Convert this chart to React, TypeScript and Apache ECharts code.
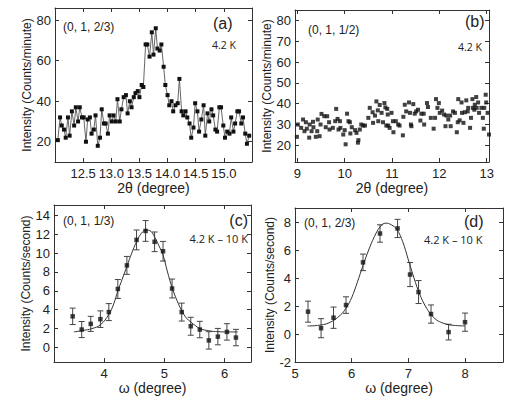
import React, { useEffect, useRef } from "react";
import * as echarts from "echarts";

// ---------- Panel (a): (0, 1, 2/3) scan, 4.2 K ----------
const A_X = [
  12.05, 12.09, 12.12, 12.16, 12.19, 12.23, 12.26, 12.30, 12.34, 12.37,
  12.41, 12.44, 12.48, 12.51, 12.55, 12.58, 12.62, 12.65, 12.69, 12.72,
  12.76, 12.80, 12.83, 12.87, 12.90, 12.94, 12.97, 13.01, 13.04, 13.08,
  13.11, 13.15, 13.18, 13.22, 13.26, 13.29, 13.33, 13.36, 13.40, 13.43,
  13.47, 13.50, 13.54, 13.57, 13.61, 13.64, 13.68, 13.72, 13.75, 13.79,
  13.82, 13.86, 13.89, 13.93, 13.96, 14.00, 14.03, 14.07, 14.10, 14.14,
  14.18, 14.21, 14.25, 14.28, 14.32, 14.35, 14.39, 14.42, 14.46, 14.49,
  14.53, 14.56, 14.60, 14.64, 14.67, 14.71, 14.74, 14.78, 14.81, 14.85,
  14.88, 14.92, 14.95, 14.99, 15.02, 15.06, 15.10, 15.13, 15.17, 15.20,
  15.24, 15.27, 15.31, 15.34, 15.38, 15.41, 15.45,
];
const A_Y = [
  20.8, 32, 28, 26, 22, 32, 23, 35, 28, 37,
  30, 37, 32, 32, 20, 31, 32, 24, 26, 33,
  18, 22, 36, 29, 29, 24, 33, 30, 33, 30,
  41, 30, 36, 42, 43, 34, 40, 37, 42, 44,
  45, 42, 48, 47, 68, 68, 62, 74, 63, 76,
  66, 65, 68, 57, 48, 43, 38, 40, 35, 38,
  39, 51, 35, 33, 35, 32, 29, 22, 27, 39,
  35, 25, 31, 38, 23, 34, 30, 36, 33, 26,
  25, 37, 37, 28, 22, 25, 24, 32, 25, 29,
  35, 35, 29, 32, 24, 19, 23,
];
const A_XTICKS = [12.5, 13.0, 13.5, 14.0, 14.5, 15.0];
const A_YTICKS = [20, 40, 60, 80];

// ---------- Panel (b): (0, 1, 1/2) scan, 4.2 K ----------
const B_X = [
  8.99, 9.01, 9.08, 9.12, 9.15, 9.18, 9.20, 9.25, 9.26, 9.30,
  9.33, 9.34, 9.39, 9.42, 9.43, 9.47, 9.49, 9.51, 9.57, 9.60,
  9.63, 9.67, 9.68, 9.75, 9.80, 9.82, 9.85, 9.87, 9.90, 9.91,
  9.97, 10.00, 10.02, 10.05, 10.08, 10.11, 10.12, 10.15, 10.22, 10.25,
  10.28, 10.29, 10.32, 10.35, 10.39, 10.43, 10.50, 10.53, 10.59, 10.60,
  10.64, 10.67, 10.70, 10.71, 10.74, 10.78, 10.81, 10.84, 10.86, 10.88,
  10.90, 10.91, 10.92, 10.95, 10.99, 11.02, 11.03, 11.08, 11.13, 11.16,
  11.23, 11.24, 11.27, 11.30, 11.36, 11.38, 11.40, 11.41, 11.45, 11.48,
  11.51, 11.55, 11.60, 11.62, 11.67, 11.68, 11.74, 11.76, 11.82, 11.88,
  11.91, 11.93, 11.96, 11.99, 12.01, 12.06, 12.10, 12.13, 12.15, 12.19,
  12.23, 12.24, 12.29, 12.33, 12.37, 12.39, 12.40, 12.43, 12.47, 12.48,
  12.51, 12.54, 12.57, 12.60, 12.61, 12.65, 12.67, 12.70, 12.71, 12.74,
  12.75, 12.78, 12.79, 12.82, 12.84, 12.89, 12.92, 12.94, 12.95, 12.98,
  12.99, 13.02, 13.05,
];
const B_Y = [
  24.1, 30.0, 28.4, 32.4, 26.8, 31.1, 28.0, 23.7, 30.0, 26.8,
  31.3, 28.7, 24.1, 26.8, 32.4, 24.4, 30.0, 35.1, 34.0, 28.7,
  34.0, 31.1, 27.6, 28.4, 31.6, 37.5, 32.7, 27.6, 31.6, 28.4,
  25.2, 27.3, 20.5, 35.2, 31.6, 31.1, 25.7, 28.7, 27.3, 26.0,
  21.3, 22.5, 27.6, 30.0, 29.5, 29.5, 33.2, 38.0, 35.9, 30.8,
  34.3, 41.1, 36.8, 31.6, 39.4, 35.6, 31.1, 40.3, 38.2, 29.5,
  37.5, 34.8, 29.5, 28.4, 35.6, 31.6, 26.3, 31.6, 30.0, 29.5,
  24.8, 33.7, 39.5, 36.3, 40.6, 35.6, 30.0, 29.2, 39.8, 35.2,
  36.3, 37.1, 31.9, 35.2, 35.2, 30.0, 40.3, 38.4, 33.2, 28.0,
  33.2, 42.2, 38.0, 40.3, 35.6, 36.7, 34.8, 29.2, 34.3, 32.4,
  34.3, 29.2, 36.3, 35.6, 26.3, 31.1, 42.2, 32.0, 40.6, 35.6,
  30.8, 35.9, 41.6, 36.3, 38.0, 28.4, 33.2, 42.2, 38.0, 37.1,
  39.5, 43.2, 38.0, 40.6, 35.6, 38.0, 33.2, 28.0, 38.0, 44.3,
  40.6, 35.6, 25.2,
];
const B_XTICKS = [9, 10, 11, 12, 13];
const B_YTICKS = [20, 30, 40, 50, 60, 70, 80];

// ---------- Panel (c): (0, 1, 1/3) rocking curve, 4.2 K - 10 K ----------
const C_X = [3.48, 3.63, 3.78, 3.94, 4.08, 4.23, 4.38, 4.54, 4.69, 4.84, 4.98, 5.13, 5.29, 5.44, 5.59, 5.74, 5.89, 6.04, 6.19];
const C_Y = [3.3, 1.9, 2.5, 3.0, 3.75, 6.2, 8.7, 11.4, 12.35, 11.2, 10.2, 6.25, 3.75, 2.25, 1.9, 0.75, 1.15, 1.65, 1.05];
const C_ERR = [0.87, 0.85, 0.8, 0.88, 0.9, 1.0, 0.95, 1.05, 1.1, 1.04, 1.04, 1.0, 0.95, 0.95, 0.87, 0.92, 0.87, 0.87, 0.87];
const C_FIT_X = [3.5, 3.65, 3.8, 3.94, 4.08, 4.16, 4.23, 4.3, 4.38, 4.46, 4.54, 4.62, 4.7, 4.78, 4.84, 4.91, 4.98, 5.05, 5.13, 5.21, 5.29, 5.37, 5.44, 5.52, 5.59, 5.74, 5.89, 6.04, 6.22];
const C_FIT_Y = [1.65, 1.8, 2.0, 2.4, 3.5, 4.6, 6.0, 7.2, 8.6, 10.0, 11.2, 12.1, 12.45, 12.3, 11.7, 10.8, 9.8, 8.1, 6.35, 5.0, 3.9, 3.1, 2.7, 2.3, 2.0, 1.77, 1.67, 1.65, 1.65];
const C_XTICKS = [4, 5, 6];
const C_YTICKS = [0, 2, 4, 6, 8, 10, 12, 14];

// ---------- Panel (d): (0, 1, 2/3) rocking curve, 4.2 K - 10 K ----------
const D_X = [5.23, 5.46, 5.68, 5.9, 6.2, 6.5, 6.81, 7.03, 7.18, 7.4, 7.71, 8.0];
const D_Y = [1.6, 0.42, 1.17, 2.07, 5.12, 7.18, 7.54, 4.25, 3.0, 1.43, 0.14, 0.85];
const D_ERR = [0.75, 0.68, 0.76, 0.59, 0.59, 0.62, 0.65, 0.86, 0.82, 0.65, 0.56, 0.65];
const D_FIT_X = [5.22, 5.4, 5.6, 5.8, 5.9, 6.0, 6.1, 6.2, 6.3, 6.4, 6.5, 6.6, 6.7, 6.8, 6.9, 7.0, 7.1, 7.2, 7.3, 7.4, 7.5, 7.6, 7.7, 7.8, 8.0];
const D_FIT_Y = [0.58, 0.62, 0.8, 1.35, 1.85, 2.6, 3.7, 4.9, 6.0, 6.95, 7.65, 7.92, 7.8, 7.45, 6.6, 5.3, 4.0, 2.85, 2.0, 1.4, 1.0, 0.8, 0.68, 0.62, 0.58];
const D_XTICKS = [5, 6, 7, 8];
const D_YTICKS = [-2, 0, 2, 4, 6, 8];

const X_NAME_TOP = "2\u03b8 (degree)";
const X_NAME_BOTTOM = "\u03c9 (degree)";
const Y_NAME_TOP = "Intensity (Counts/minute)";
const Y_NAME_BOTTOM = "Intensity (Counts/second)";

const FONT = '"Liberation Sans", Arial, sans-serif';
const AX = "#333";
const TXT = "#222";

function xAxesFor(gridIndex: number, min: number, max: number, ticks: number[], name: string, fmt: ((v: number) => string) | null, nameGap: number) {
  const line = { show: true, onZero: false, lineStyle: { color: AX, width: 1 } };
  return [
    {
      type: "value", gridIndex, min, max, position: "bottom",
      name, nameLocation: "middle", nameGap,
      nameTextStyle: { fontFamily: FONT, fontSize: 14, color: TXT },
      axisLine: line,
      axisTick: { show: true, inside: true, length: 4, customValues: ticks, lineStyle: { color: AX } },
      axisLabel: { show: true, customValues: ticks, margin: 5, fontFamily: FONT, fontSize: 13, color: TXT, formatter: fmt ? (v: number) => fmt(v) : undefined },
      splitLine: { show: false },
    },
    {
      type: "value", gridIndex, min, max, position: "top",
      axisLine: line,
      axisTick: { show: true, inside: true, length: 4, customValues: ticks, lineStyle: { color: AX } },
      axisLabel: { show: false },
      splitLine: { show: false },
    },
  ];
}

function yAxesFor(gridIndex: number, min: number, max: number, ticks: number[], name: string, nameGap: number) {
  const line = { show: true, onZero: false, lineStyle: { color: AX, width: 1 } };
  return [
    {
      type: "value", gridIndex, min, max, position: "left",
      name, nameLocation: "middle", nameGap,
      nameTextStyle: { fontFamily: FONT, fontSize: 12, color: TXT },
      axisLine: line,
      axisTick: { show: true, inside: true, length: 4, customValues: ticks, lineStyle: { color: AX } },
      axisLabel: { show: true, customValues: ticks, margin: 4, fontFamily: FONT, fontSize: 13, color: TXT },
      splitLine: { show: false },
    },
    {
      type: "value", gridIndex, min, max, position: "right",
      axisLine: line,
      axisTick: { show: true, inside: true, length: 4, customValues: ticks, lineStyle: { color: AX } },
      axisLabel: { show: false },
      splitLine: { show: false },
    },
  ];
}

function errorBars(xAxisIndex: number, yAxisIndex: number, xs: number[], ys: number[], errs: number[]) {
  return {
    type: "custom",
    xAxisIndex, yAxisIndex,
    z: 1,
    data: xs.map((x, i) => [x, ys[i] - errs[i], ys[i] + errs[i]]),
    encode: { x: 0, y: [1, 2] },
    renderItem: (params: any, api: any) => {
      const x = api.value(0);
      const lo = api.coord([x, api.value(1)]);
      const hi = api.coord([x, api.value(2)]);
      const w = 3;
      const st = { stroke: "#444", lineWidth: 1 };
      return {
        type: "group",
        children: [
          { type: "line", shape: { x1: lo[0], y1: lo[1], x2: hi[0], y2: hi[1] }, style: st },
          { type: "line", shape: { x1: lo[0] - w, y1: lo[1], x2: lo[0] + w, y2: lo[1] }, style: st },
          { type: "line", shape: { x1: hi[0] - w, y1: hi[1], x2: hi[0] + w, y2: hi[1] }, style: st },
        ],
      };
    },
  };
}

function label(x: number, y: number, text: string, size: number, family: string, align = "left") {
  return {
    type: "text", x, y, z: 10,
    style: { text, fill: TXT, font: `${size}px ${family}`, textAlign: align, textVerticalAlign: "middle" },
  };
}

export default function App() {
  const ref = useRef<HTMLDivElement>(null);
  useEffect(() => {
    if (!ref.current) return;
    const chart = echarts.init(ref.current, null, { renderer: "svg" });
    const pair = (xs: number[], ys: number[]) => xs.map((x, i) => [x, ys[i]]);
    const LF = '"Open Sans", sans-serif';
    chart.setOption({
      animation: false,
      backgroundColor: "#fff",
      grid: [
        { left: 55, top: 8, width: 197, height: 154 },
        { left: 295, top: 10, width: 194, height: 152 },
        { left: 54, top: 205, width: 197, height: 160 },
        { left: 295, top: 208, width: 208, height: 156 },
      ],
      xAxis: [
        ...xAxesFor(0, 12, 15.5, A_XTICKS, X_NAME_TOP, (v) => v.toFixed(1), 16),
        ...xAxesFor(1, 8.95, 13.05, B_XTICKS, X_NAME_TOP, null, 16),
        ...xAxesFor(2, 3.17, 6.44, C_XTICKS, X_NAME_BOTTOM, null, 17),
        ...xAxesFor(3, 5, 8.67, D_XTICKS, X_NAME_BOTTOM, null, 18),
      ],
      yAxis: [
        ...yAxesFor(0, 10, 86, A_YTICKS, Y_NAME_TOP, 22),
        ...yAxesFor(1, 12, 85, B_YTICKS, Y_NAME_TOP, 16),
        ...yAxesFor(2, -1.55, 15.1, C_YTICKS, Y_NAME_BOTTOM, 22),
        ...yAxesFor(3, -2, 9, D_YTICKS, Y_NAME_BOTTOM, 19),
      ],
      series: [
        {
          type: "line", xAxisIndex: 0, yAxisIndex: 0,
          data: pair(A_X, A_Y),
          symbol: "rect", symbolSize: 4,
          itemStyle: { color: "#111" },
          lineStyle: { color: "#555", width: 0.9 },
        },
        {
          type: "scatter", xAxisIndex: 2, yAxisIndex: 2,
          data: pair(B_X, B_Y),
          symbol: "rect", symbolSize: 4,
          itemStyle: { color: "#111" },
        },
        errorBars(4, 4, C_X, C_Y, C_ERR),
        {
          type: "line", xAxisIndex: 4, yAxisIndex: 4,
          data: pair(C_FIT_X, C_FIT_Y),
          showSymbol: false, symbol: "none", smooth: 0.4,
          lineStyle: { color: "#333", width: 1 },
        },
        {
          type: "scatter", xAxisIndex: 4, yAxisIndex: 4,
          data: pair(C_X, C_Y),
          symbol: "rect", symbolSize: 4.5, z: 5,
          itemStyle: { color: "#111" },
        },
        errorBars(6, 6, D_X, D_Y, D_ERR),
        {
          type: "line", xAxisIndex: 6, yAxisIndex: 6,
          data: pair(D_FIT_X, D_FIT_Y),
          showSymbol: false, symbol: "none", smooth: 0.4,
          lineStyle: { color: "#333", width: 1 },
        },
        {
          type: "scatter", xAxisIndex: 6, yAxisIndex: 6,
          data: pair(D_X, D_Y),
          symbol: "rect", symbolSize: 4.5, z: 5,
          itemStyle: { color: "#111" },
        },
      ],
      graphic: [
        label(63, 27, "(0, 1, 2/3)", 12, FONT),
        label(213, 23, "(a)", 16, FONT),
        label(212, 45, "4.2 K", 10.5, LF),
        label(308, 30, "(0, 1, 1/2)", 12, FONT),
        label(465, 21, "(b)", 16, FONT),
        label(458, 47, "4.2 K", 10.5, LF),
        label(63, 221, "(0, 1, 1/3)", 12, FONT),
        label(248, 220, "(c)", 16, FONT, "right"),
        label(248, 238, "4.2 K \u2013 10 K", 11, LF, "right"),
        label(304, 223, "(0, 1, 2/3)", 12, FONT),
        label(464, 221, "(d)", 16, FONT),
        label(424, 239, "4.2 K \u2013 10 K", 11, LF),
      ],
    });
    return () => chart.dispose();
  }, []);
  return <div ref={ref} style={{ position: "fixed", left: 0, top: 0, width: 512, height: 396 }} />;
}
